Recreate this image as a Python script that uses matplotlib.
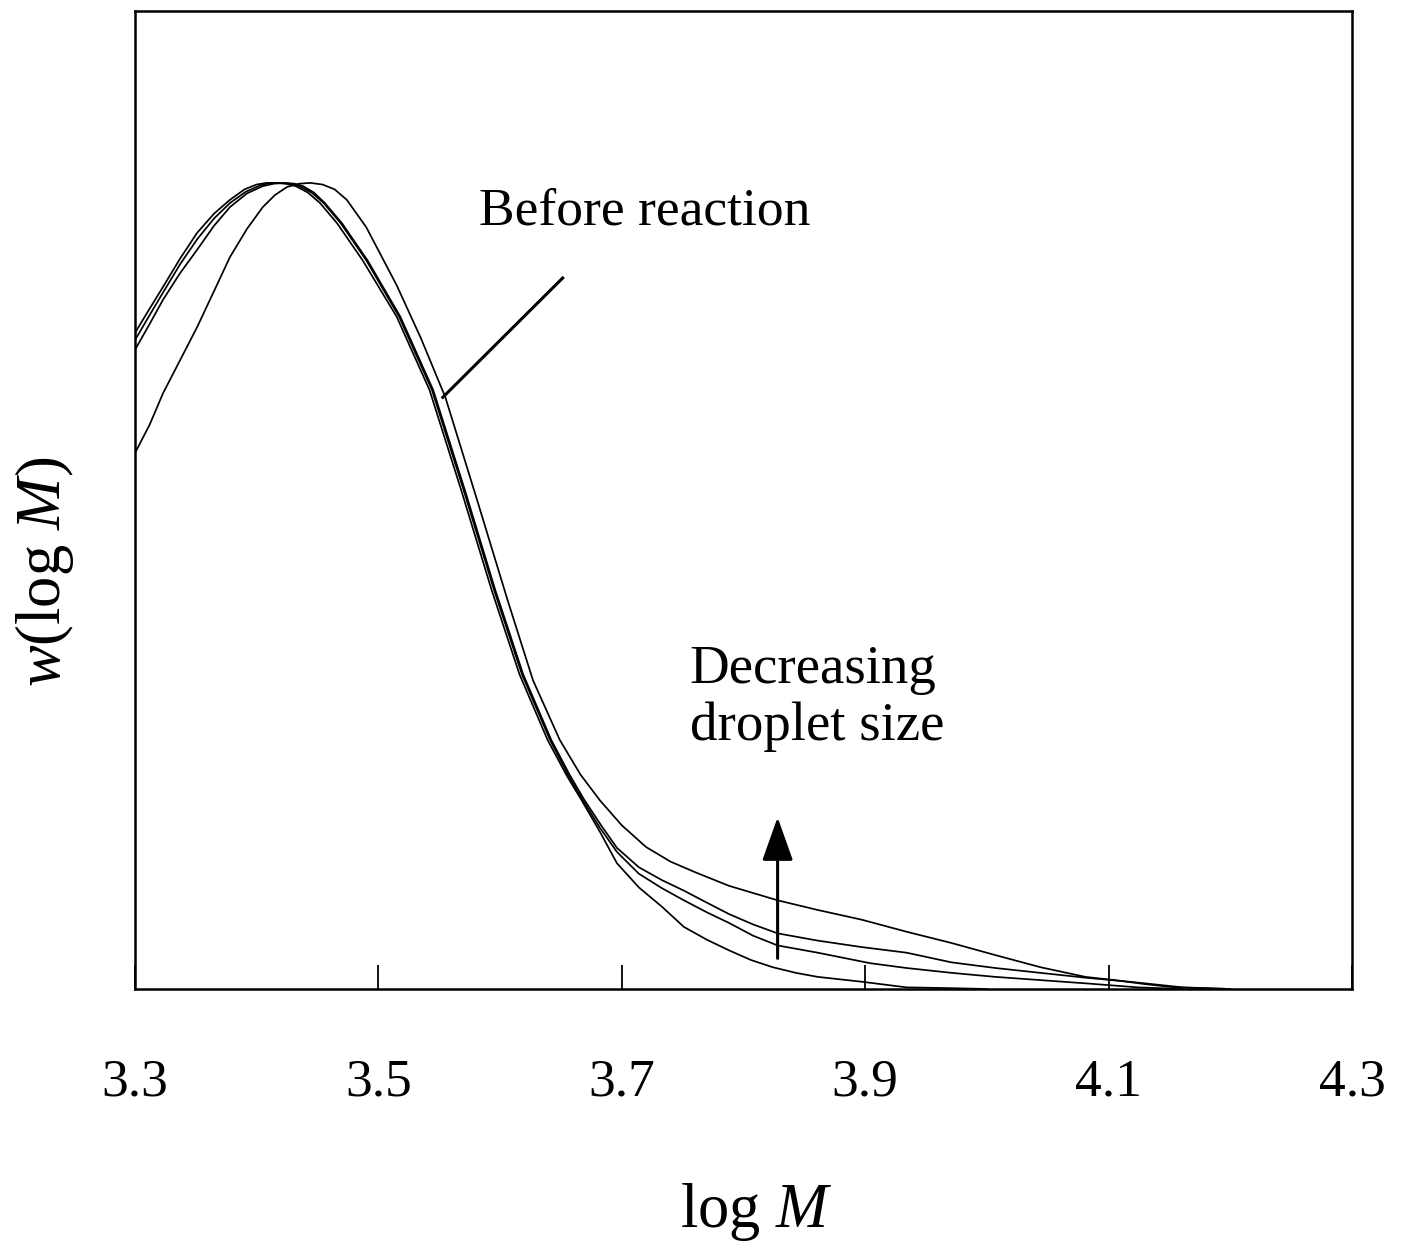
import matplotlib
matplotlib.use("Agg")
import matplotlib.pyplot as plt

plt.rcParams['font.family'] = ['Liberation Serif', 'DejaVu Serif']
plt.rcParams['mathtext.fontset'] = 'custom'
plt.rcParams['mathtext.rm'] = 'Liberation Serif'
plt.rcParams['mathtext.it'] = 'Liberation Serif:italic'

# log M values and w(log M) (peak normalised to 1)
x_a = [3.300, 3.312, 3.323, 3.337, 3.351, 3.365, 3.378, 3.390, 3.400, 3.408,
       3.415, 3.424, 3.432, 3.442, 3.452, 3.466, 3.487, 3.515, 3.542, 3.568,
       3.593, 3.616, 3.639, 3.655, 3.667, 3.682, 3.696, 3.714, 3.733, 3.751,
       3.770, 3.788, 3.806, 3.824, 3.843, 3.861, 3.897, 3.934, 3.971, 4.000]
y_a = [0.814, 0.844, 0.871, 0.906, 0.938, 0.962, 0.979, 0.992, 0.998, 1.000,
       1.000, 0.999, 0.996, 0.988, 0.975, 0.950, 0.904, 0.834, 0.743, 0.619,
       0.495, 0.390, 0.309, 0.264, 0.234, 0.195, 0.156, 0.126, 0.102, 0.077,
       0.061, 0.048, 0.036, 0.027, 0.020, 0.015, 0.009, 0.002, 0.001, 0.000]

x_b = [3.300, 3.312, 3.323, 3.337, 3.351, 3.365, 3.378, 3.391, 3.403, 3.411,
       3.418, 3.427, 3.435, 3.445, 3.455, 3.469, 3.490, 3.517, 3.544, 3.570,
       3.595, 3.618, 3.641, 3.656, 3.668, 3.682, 3.696, 3.714, 3.733, 3.751,
       3.770, 3.788, 3.808, 3.828, 3.861, 3.904, 3.934, 3.971, 4.007, 4.044,
       4.081, 4.124, 4.160]
y_b = [0.805, 0.836, 0.864, 0.899, 0.930, 0.956, 0.975, 0.989, 0.997, 1.000,
       1.000, 0.999, 0.996, 0.988, 0.975, 0.950, 0.904, 0.834, 0.743, 0.619,
       0.495, 0.390, 0.309, 0.265, 0.234, 0.200, 0.170, 0.143, 0.125, 0.110,
       0.095, 0.082, 0.066, 0.054, 0.045, 0.032, 0.026, 0.020, 0.015, 0.011,
       0.007, 0.002, 0.000]

x_c = [3.300, 3.312, 3.323, 3.337, 3.351, 3.365, 3.378, 3.392, 3.405, 3.414,
       3.423, 3.431, 3.438, 3.447, 3.456, 3.470, 3.491, 3.518, 3.545, 3.571,
       3.596, 3.619, 3.642, 3.657, 3.669, 3.683, 3.696, 3.714, 3.733, 3.751,
       3.770, 3.788, 3.808, 3.828, 3.861, 3.897, 3.934, 3.971, 4.007, 4.044,
       4.081, 4.117, 4.161, 4.200]
y_c = [0.793, 0.825, 0.855, 0.888, 0.917, 0.947, 0.970, 0.987, 0.996, 0.999,
       1.000, 0.999, 0.996, 0.988, 0.975, 0.950, 0.904, 0.834, 0.743, 0.619,
       0.495, 0.390, 0.309, 0.266, 0.235, 0.203, 0.175, 0.151, 0.135, 0.122,
       0.107, 0.093, 0.080, 0.069, 0.060, 0.052, 0.045, 0.033, 0.026, 0.020,
       0.014, 0.009, 0.002, 0.000]

# before reaction
x_d = [3.300, 3.312, 3.323, 3.337, 3.351, 3.365, 3.378, 3.392, 3.405, 3.415,
       3.425, 3.435, 3.444, 3.454, 3.464, 3.474, 3.490, 3.515, 3.535, 3.555,
       3.581, 3.606, 3.627, 3.649, 3.666, 3.682, 3.700, 3.720, 3.740, 3.760,
       3.788, 3.828, 3.861, 3.897, 3.934, 3.971, 4.007, 4.044, 4.081, 4.105,
       4.130, 4.154, 4.199]
y_d = [0.665, 0.700, 0.739, 0.780, 0.821, 0.866, 0.908, 0.943, 0.970, 0.985,
       0.995, 0.999, 1.000, 0.998, 0.992, 0.979, 0.945, 0.873, 0.807, 0.734,
       0.607, 0.483, 0.383, 0.309, 0.266, 0.234, 0.203, 0.176, 0.158, 0.145,
       0.128, 0.110, 0.098, 0.086, 0.071, 0.057, 0.042, 0.027, 0.015, 0.011,
       0.006, 0.002, 0.000]

xticks = [3.3, 3.5, 3.7, 3.9, 4.1, 4.3]

fig = plt.figure(figsize=(14.11, 12.44), dpi=100)
ax = fig.add_axes([0.0957, 0.205, 0.8625, 0.786])

for xs, ys in [(x_a, y_a), (x_b, y_b), (x_c, y_c), (x_d, y_d)]:
    ax.plot(xs, ys, color='black', lw=1.25)

ax.set_xlim(3.3, 4.3)
ax.set_ylim(0, 1.213)
ax.set_xticks(xticks)
ax.set_xticklabels([f"{t:.1f}" for t in xticks])
ax.set_yticks([])
ax.tick_params(axis='x', direction='in', length=17, width=1.3,
               labelsize=38.5, pad=50)
for s in ax.spines.values():
    s.set_linewidth(1.8)

# labels
ax.plot([3.5529, 3.6514], [0.734, 0.882], color='black', lw=2.2)
ax.text(3.583, 0.948, "Before reaction", fontsize=38.5, va='baseline')
ax.text(3.7557, 0.380, "Decreasing", fontsize=39.5, va='baseline')
ax.text(3.7557, 0.309, "droplet size", fontsize=39.5, va='baseline')
ax.annotate("", xy=(3.828, 0.213), xytext=(3.828, 0.038),
            arrowprops=dict(arrowstyle='-|>,head_length=0.9,head_width=0.32',
                            mutation_scale=30, color='black', lw=2.2,
                            shrinkA=0, shrinkB=0))

fig.text(756 / 1411, 1 - 1212 / 1244, r"log $M$", fontsize=45,
         ha='center', va='center')
fig.text(45 / 1411, 1 - 572 / 1244, r"$w$(log $M$)", fontsize=45,
         ha='center', va='center', rotation=90)

fig.savefig("out.png", dpi=100)
